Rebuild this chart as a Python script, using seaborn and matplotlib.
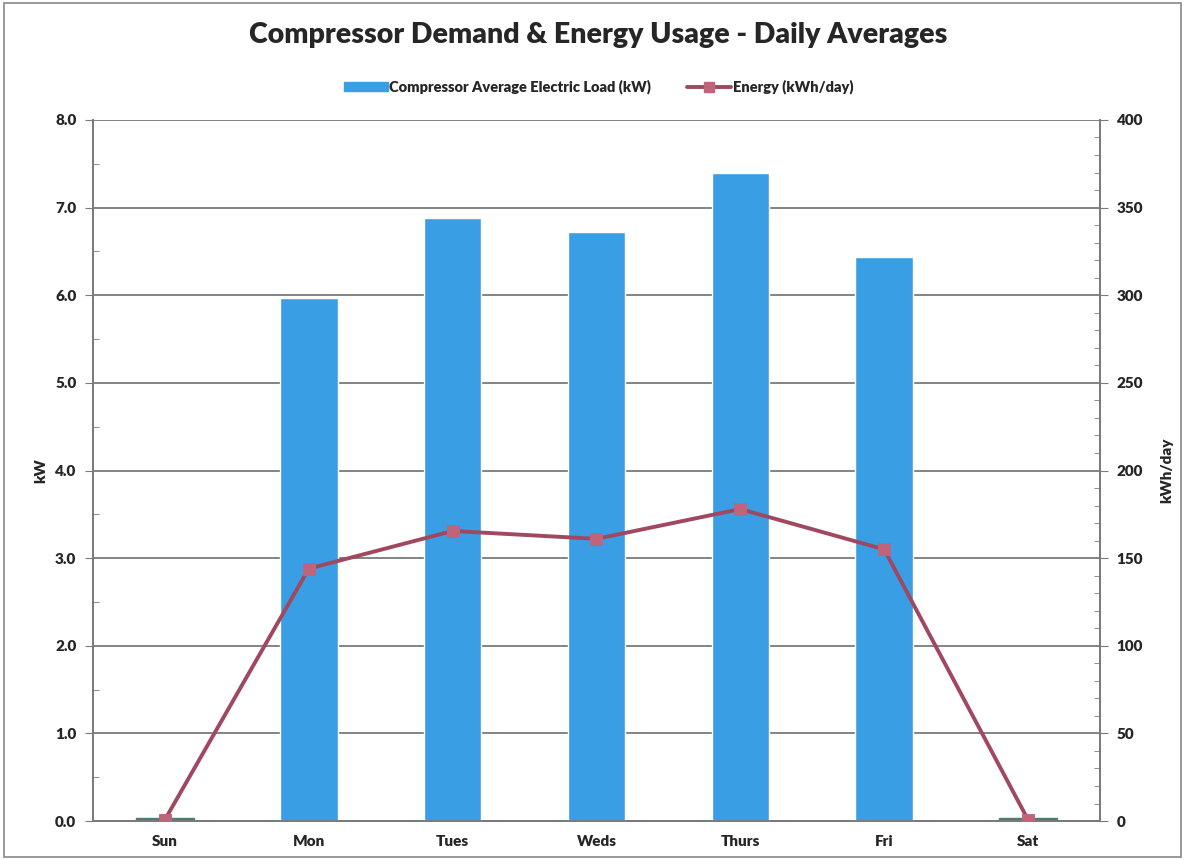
import matplotlib
matplotlib.use("Agg")
import matplotlib.pyplot as plt
from matplotlib.patches import Patch, Rectangle
from matplotlib.lines import Line2D
from matplotlib.ticker import MultipleLocator
import pandas as pd
import seaborn as sns

days = ["Sun", "Mon", "Tues", "Weds", "Thurs", "Fri", "Sat"]
load_kw = [0.04, 5.97, 6.88, 6.72, 7.40, 6.44, 0.04]
energy_kwh = [0.8, 144.0, 165.5, 161.0, 178.0, 155.0, 0.8]

bar_color = "#3a9ee4"
line_color = "#a0485f"
marker_color = "#c0647c"
grid_color = "#7a7a7a"

df = pd.DataFrame({"day": days, "kw": load_kw, "kwh": energy_kwh})

sns.set_style("white")
plt.rcParams["font.family"] = ["Lato", "DejaVu Sans"]

fig = plt.figure(figsize=(11.85, 8.6), dpi=100)
ax = fig.add_axes([0.0785, 0.0453, 0.8497, 0.8152])

sns.barplot(data=df, x="day", y="kw", order=days, color=bar_color,
            width=0.4, saturation=1, ax=ax, zorder=3)
# the near-zero weekend bars look darker in the original
for p, v in zip(ax.patches, load_kw):
    if v < 0.1:
        p.set_facecolor("#4d7d72")
        p.set_edgecolor("#4d7d72")

ax2 = ax.twinx()
sns.pointplot(data=df, x="day", y="kwh", order=days, color=line_color,
              markers="s", markersize=7, linewidth=2.8, ax=ax2, zorder=4,
              markerfacecolor=marker_color, markeredgecolor=marker_color)

ax.set_xlim(-0.5, 6.5)
ax.set_ylim(0, 8)
ax2.set_ylim(0, 400)
ax.yaxis.set_major_locator(MultipleLocator(1.0))
ax.yaxis.set_minor_locator(MultipleLocator(0.5))
ax2.yaxis.set_major_locator(MultipleLocator(50))
ax2.yaxis.set_minor_locator(MultipleLocator(10))
ax.set_yticklabels([f"{v:.1f}" for v in ax.get_yticks()])

ax.grid(axis="y", color=grid_color, linewidth=1.3, zorder=0)
ax.set_axisbelow(True)

for a in (ax, ax2):
    for s in a.spines.values():
        s.set_color(grid_color)
        s.set_linewidth(1.3)
    a.spines["top"].set_visible(False)

ax.tick_params(axis="y", which="major", direction="out", length=6, color=grid_color,
               labelsize=11, pad=6)
ax.tick_params(axis="y", which="minor", direction="in", length=4, color=grid_color)
ax2.tick_params(axis="y", which="major", direction="out", length=6, color=grid_color,
                labelsize=11, pad=6)
ax2.tick_params(axis="y", which="minor", direction="in", length=4, color=grid_color)

# category ticks sit on the boundaries between days
ax.set_xticks(range(len(days)))
ax.set_xticklabels(days, fontsize=11, fontweight="heavy")
ax.tick_params(axis="x", which="major", length=0, pad=10)
ax.set_xticks([i + 0.5 for i in range(len(days) - 1)], minor=True)
ax.tick_params(axis="x", which="minor", direction="out", length=5, color=grid_color)

for lab in ax.get_yticklabels() + ax2.get_yticklabels():
    lab.set_fontweight("heavy")

ax.set_xlabel("")
ax.set_ylabel("kW", fontsize=11, fontweight="heavy", labelpad=6)
ax2.set_ylabel("kWh/day", fontsize=11, fontweight="heavy", labelpad=12)

fig.suptitle("Compressor Demand & Energy Usage - Daily Averages", x=0.505, y=0.974,
             fontsize=20.5, fontweight="heavy")

handles = [Patch(facecolor=bar_color, edgecolor=bar_color),
           Line2D([0], [0], color=line_color, linewidth=2.8, marker="s",
                  markersize=7, markerfacecolor=marker_color, markeredgecolor=marker_color)]
fig.legend(handles, ["Compressor Average Electric Load (kW)", "Energy (kWh/day)"],
           loc="center", bbox_to_anchor=(0.505, 0.899), ncol=2, frameon=False,
           handlelength=3.0, handleheight=0.5, handletextpad=0.1,
           columnspacing=2.5, prop={"size": 10.5, "weight": "heavy"})

fig.patches.append(Rectangle((0.003, 0.003), 0.994, 0.994, transform=fig.transFigure,
                             fill=False, edgecolor="#888888", linewidth=1.2))

fig.savefig("out.png", dpi=100)
